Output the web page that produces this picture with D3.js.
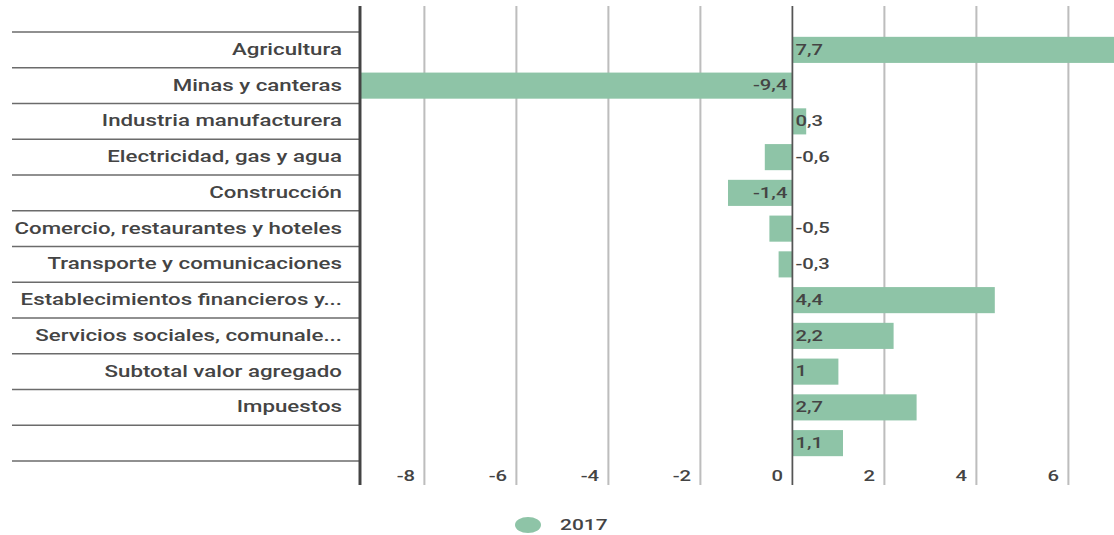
<!DOCTYPE html>
<html>
<head>
<meta charset="utf-8">
<script src="https://cdn.jsdelivr.net/npm/d3@7"></script>
<style>
  html, body { margin: 0; padding: 0; background: #fff; }
  svg { display: block; }
  text { font-family: Roboto, "Noto Sans", sans-serif; font-weight: 500; fill: #444; }
</style>
</head>
<body>
<svg id="chart" width="1114" height="535"></svg>
<script>
// Growth by sector, 2017 (%)
const categories = [
  "Agricultura",
  "Minas y canteras",
  "Industria manufacturera",
  "Electricidad, gas y agua",
  "Construcción",
  "Comercio, restaurantes y hoteles",
  "Transporte y comunicaciones",
  "Establecimientos financieros y...",
  "Servicios sociales, comunale...",
  "Subtotal valor agregado",
  "Impuestos",
  ""
];
const values2017 = [7.7, -9.4, 0.3, -0.6, -1.4, -0.5, -0.3, 4.4, 2.2, 1, 2.7, 1.1];
const tickValues = [-8, -6, -4, -2, 0, 2, 4, 6];
const seriesName = "2017";

// Text and marks are drawn slightly widened horizontally
const SX = 1.35;
const px = v => v / SX;

const svg = d3.select("#chart");
const g = svg.append("g").attr("transform", `scale(${SX},1)`);

const plotLeft = 360, pxPerUnit = 46;
const xDomain = [-9.4, 7.7];
const x = d3.scaleLinear()
  .domain(xDomain)
  .range([px(plotLeft), px(plotLeft + (xDomain[1] - xDomain[0]) * pxPerUnit)]);

const rowTop = 32, rowBottom = 461;
const y = d3.scaleBand()
  .domain(d3.range(categories.length))
  .range([rowTop, rowBottom])
  .paddingInner(0.27)
  .paddingOuter(0.135);
const step = (rowBottom - rowTop) / categories.length;

const locale = d3.formatLocale({ decimal: ",", thousands: ".", grouping: [3], currency: ["", ""], minus: "-" });
const fmt = locale.format("~g");
const tickFmt = locale.format("d");

const gridTop = 6, gridBottom = 485;

// vertical gridlines
g.append("g").selectAll("line")
  .data(tickValues.filter(t => t !== 0))
  .join("line")
  .attr("x1", d => x(d)).attr("x2", d => x(d))
  .attr("y1", gridTop).attr("y2", gridBottom)
  .attr("stroke", "#bdbdbd").attr("stroke-width", 1.5);

// row separators in the label column
g.append("g").selectAll("line")
  .data(d3.range(categories.length + 1))
  .join("line")
  .attr("x1", px(12)).attr("x2", px(plotLeft))
  .attr("y1", d => rowTop + d * step).attr("y2", d => rowTop + d * step)
  .attr("stroke", "#6b6b6b").attr("stroke-width", 1.4);

// bars
g.append("g").selectAll("rect")
  .data(values2017)
  .join("rect")
  .attr("x", d => x(Math.min(0, d)))
  .attr("width", d => Math.abs(x(d) - x(0)))
  .attr("y", (d, i) => y(i))
  .attr("height", y.bandwidth())
  .attr("fill", "#8ec4a7");

// zero line
g.append("line")
  .attr("x1", x(0)).attr("x2", x(0))
  .attr("y1", gridTop).attr("y2", gridBottom)
  .attr("stroke", "#555").attr("stroke-width", 1.3);

// left axis line
g.append("line")
  .attr("x1", px(plotLeft)).attr("x2", px(plotLeft))
  .attr("y1", gridTop).attr("y2", gridBottom)
  .attr("stroke", "#444").attr("stroke-width", 2.2);

// category labels
g.append("g").selectAll("text")
  .data(categories)
  .join("text")
  .attr("x", px(342))
  .attr("y", (d, i) => y(i) + y.bandwidth() / 2)
  .attr("dy", "0.3em")
  .attr("text-anchor", "end")
  .style("font-size", "16.5px")
  .text(d => d);

// value labels
g.append("g").selectAll("text")
  .data(values2017)
  .join("text")
  .attr("x", d => d <= -1 ? x(0) - px(5) : x(0) + px(3))
  .attr("y", (d, i) => y(i) + y.bandwidth() / 2)
  .attr("dy", "0.32em")
  .attr("text-anchor", d => d <= -1 ? "end" : "start")
  .style("font-size", "15px")
  .text(d => fmt(d));

// x axis tick labels
const xAxis = d3.axisBottom(x).tickValues(tickValues).tickSize(0).tickFormat(tickFmt);
const axisG = g.append("g").attr("transform", `translate(0,${gridBottom})`).call(xAxis);
axisG.select(".domain").remove();
axisG.selectAll("text")
  .attr("x", -px(10))
  .attr("y", -4)
  .attr("dy", 0)
  .attr("text-anchor", "end")
  .style("font-size", "15px")
  .style("font-family", "Roboto, sans-serif")
  .attr("fill", "#444");

// legend
const legend = g.append("g");
legend.append("ellipse")
  .attr("cx", px(528)).attr("cy", 525)
  .attr("rx", px(13)).attr("ry", 8)
  .attr("fill", "#8ec4a7");
legend.append("text")
  .attr("x", px(560)).attr("y", 530)
  .style("font-size", "15.5px")
  .text(seriesName);
</script>
</body>
</html>
